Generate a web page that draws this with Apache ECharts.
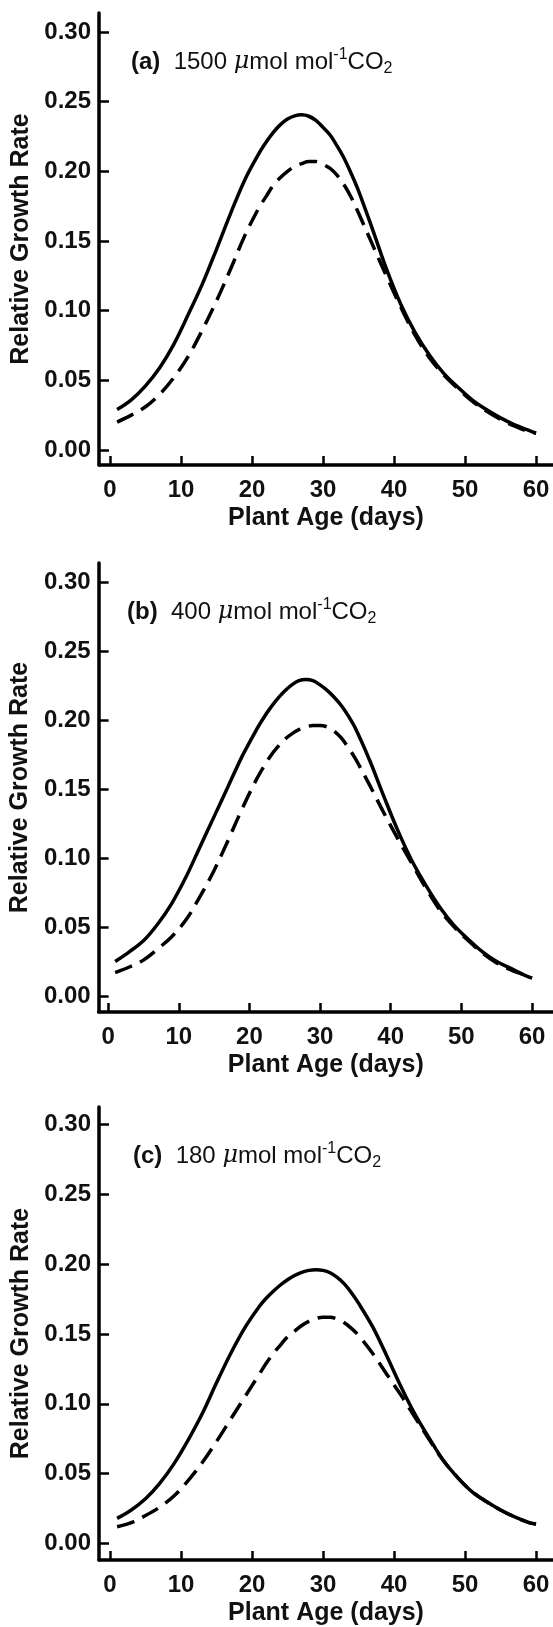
<!DOCTYPE html>
<html>
<head>
<meta charset="utf-8">
<script src="https://cdn.jsdelivr.net/npm/echarts@6/dist/echarts.min.js"></script>
<style>
html,body{margin:0;padding:0;background:#fff;}
#c{width:553px;height:1627px;}
</style>
</head>
<body>
<div id="c"></div>
<script>
// ---- data ----
const days = [1,3,5,7,9,11,13,15,17,19,21,22,23,24,25,26,27,28,29,30,31,32,33,34,35,37,39,41,43,45,47,49,51,53,55,57,59,60];
const solidA = [0.029,0.036,0.046,0.059,0.076,0.097,0.119,0.144,0.170,0.194,0.213,0.221,0.228,0.2335,0.2375,0.2398,0.2405,0.2395,0.2365,0.2315,0.226,0.218,0.209,0.198,0.186,0.158,0.129,0.104,0.084,0.068,0.055,0.045,0.036,0.029,0.023,0.018,0.014,0.012];
const dashA  = [0.020,0.025,0.031,0.040,0.052,0.067,0.086,0.107,0.130,0.154,0.174,0.182,0.190,0.1955,0.200,0.2035,0.2055,0.207,0.207,0.205,0.202,0.197,0.190,0.181,0.170,0.147,0.124,0.102,0.082,0.066,0.054,0.044,0.035,0.028,0.022,0.017,0.013,0.012];
const solidB = [0.025,0.032,0.040,0.052,0.067,0.086,0.108,0.130,0.152,0.174,0.193,0.2015,0.209,0.2155,0.221,0.2255,0.2285,0.2294,0.2285,0.2255,0.2215,0.2165,0.2105,0.203,0.194,0.171,0.145,0.120,0.098,0.080,0.064,0.051,0.041,0.032,0.025,0.020,0.015,0.013];
const dashB  = [0.017,0.021,0.026,0.034,0.043,0.055,0.072,0.091,0.113,0.136,0.157,0.166,0.174,0.1805,0.186,0.190,0.193,0.195,0.196,0.196,0.195,0.192,0.187,0.180,0.172,0.153,0.133,0.114,0.096,0.078,0.062,0.050,0.040,0.031,0.024,0.019,0.015,0.013];
const solidC = [0.018,0.024,0.032,0.043,0.057,0.074,0.093,0.115,0.136,0.1545,0.1695,0.1755,0.1805,0.185,0.1888,0.1918,0.194,0.1955,0.196,0.1955,0.1938,0.1905,0.1858,0.1795,0.172,0.155,0.134,0.112,0.092,0.075,0.059,0.047,0.037,0.030,0.024,0.019,0.015,0.014];
const dashC  = [0.012,0.015,0.020,0.026,0.034,0.045,0.058,0.073,0.089,0.105,0.121,0.129,0.136,0.142,0.148,0.152,0.156,0.159,0.161,0.162,0.162,0.1605,0.158,0.154,0.149,0.136,0.121,0.106,0.090,0.074,0.059,0.047,0.037,0.030,0.024,0.019,0.015,0.014];
const xTicks = [0,10,20,30,40,50,60];
const yTicks = [0,0.05,0.10,0.15,0.20,0.25,0.30];
const panelLetters = ['(a)','(b)','(c)'];
const panelCO2 = ['1500','400','180'];
const xName = 'Plant Age (days)';
const yName = 'Relative Growth Rate';

// ---- layout ----
const grids = [
  {left:99, top:13,   width:454, height:452, xmin:-1.549, xmax:62.39, ymin:-0.0108, ymax:0.3136},
  {left:98, top:563,  width:455, height:449, xmin:-1.343, xmax:62.97, ymin:-0.0116, ymax:0.3138},
  {left:99, top:1107, width:454, height:453, xmin:-1.549, xmax:62.39, ymin:-0.0118, ymax:0.3124}
];
const FONT = 'Liberation Sans, Arial, Helvetica, sans-serif';
const pairs = (ys) => days.map((d,i)=>[d, ys[i]]);
const series = [[solidA,dashA],[solidB,dashB],[solidC,dashC]];

const option = {
  animation:false,
  backgroundColor:'#fff',
  grid: grids.map(g=>({left:g.left, top:g.top, width:g.width, height:g.height})),
  xAxis: grids.map((g,i)=>({
    type:'value', gridIndex:i, min:g.xmin, max:g.xmax,
    axisLine:{show:true, onZero:false, lineStyle:{color:'#000', width:3.5}},
    axisTick:{show:true, inside:true, length:9, customValues:xTicks, lineStyle:{color:'#000', width:2.5}},
    axisLabel:{show:true, customValues:xTicks, fontSize:24, fontWeight:'bold', fontFamily:FONT, color:'#111', margin:13},
    splitLine:{show:false},
    name:xName, nameLocation:'middle', nameGap:41,
    nameTextStyle:{fontSize:25, fontWeight:'bold', fontFamily:FONT, color:'#111'}
  })),
  yAxis: grids.map((g,i)=>({
    type:'value', gridIndex:i, min:g.ymin, max:g.ymax,
    axisLine:{show:true, onZero:false, lineStyle:{color:'#000', width:3.5}},
    axisTick:{show:true, inside:true, length:10, customValues:yTicks, lineStyle:{color:'#000', width:2.5}},
    axisLabel:{show:true, customValues:yTicks, formatter:(v)=>v.toFixed(2), fontSize:24, fontWeight:'bold', fontFamily:FONT, color:'#111', margin:8},
    splitLine:{show:false},
    name:yName, nameLocation:'middle', nameGap:62,
    nameTextStyle:{fontSize:25, fontWeight:'bold', fontFamily:FONT, color:'#111'}
  })),
  series: [],
  graphic: grids.map((g,i)=>({
    type:'text', left:[131,127,133][i], top:g.top+49-15,
    style:{
      text:'{b|'+panelLetters[i]+'}  '+panelCO2[i]+' {mu|μ}mol mol{sup|-1}CO{sub|2}',
      fontSize:24, fontFamily:FONT, fill:'#111', lineHeight:30,
      rich:{
        b:{fontSize:24, fontWeight:'bold', fontFamily:FONT, fill:'#111', lineHeight:30},
        mu:{fontSize:24, fontStyle:'italic', fontFamily:'DejaVu Serif, serif', fill:'#111', lineHeight:30},
        sup:{fontSize:16, fontFamily:FONT, fill:'#111', verticalAlign:'top', lineHeight:16},
        sub:{fontSize:16, fontFamily:FONT, fill:'#111', verticalAlign:'bottom', lineHeight:16}
      }
    }
  }))
};
series.forEach((pair,i)=>{
  option.series.push({type:'line', xAxisIndex:i, yAxisIndex:i, data:pairs(pair[0]), showSymbol:false, smooth:0.35,
    lineStyle:{color:'#000', width:3.5, type:'solid'}});
  option.series.push({type:'line', xAxisIndex:i, yAxisIndex:i, data:pairs(pair[1]), showSymbol:false, smooth:0.35,
    lineStyle:{color:'#000', width:3.5, type:[18,9]}});
});
const chart = echarts.init(document.getElementById('c'), null, {renderer:'canvas'});
chart.setOption(option);
</script>
</body>
</html>
